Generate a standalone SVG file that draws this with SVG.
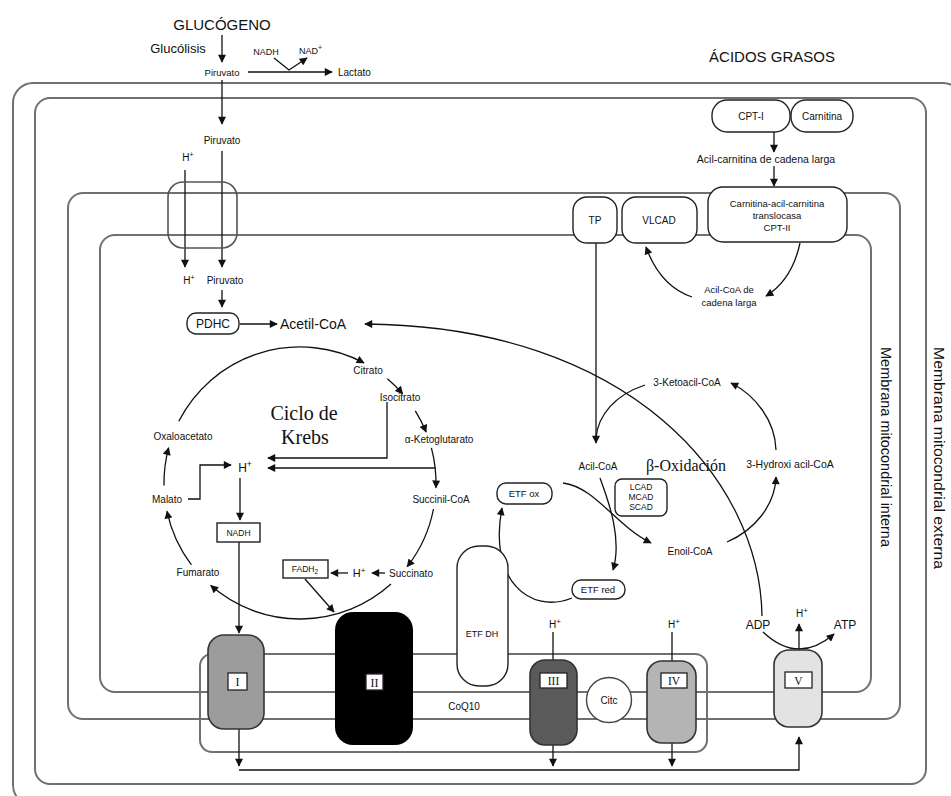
<svg xmlns="http://www.w3.org/2000/svg" width="951" height="796" viewBox="0 0 951 796">
<defs>
<style>
.mem{fill:none;stroke:#707070;stroke-width:2}
.ln{fill:none;stroke:#111;stroke-width:1.3}
.bx{fill:#fff;stroke:#222;stroke-width:1.4}
.t{font-family:"Liberation Sans",Arial,sans-serif;fill:#111;text-anchor:middle}
.st{font-family:"Liberation Sans",Arial,sans-serif;fill:#111;text-anchor:start}
.s{font-family:"Liberation Serif","Times New Roman",serif;fill:#111;text-anchor:middle}
.cx{stroke:#333;stroke-width:1.6}
.lb{fill:#fff;stroke:#222;stroke-width:1.3}
</style>
<marker id="ah" viewBox="0 0 10 10" refX="9" refY="5" markerWidth="9" markerHeight="8" orient="auto" markerUnits="userSpaceOnUse"><path d="M0,0 L10,5 L0,10 z" fill="#111"/></marker>
</defs>
<rect width="951" height="796" fill="#fff"/>

<g id="membranes">
<rect class="mem" x="13" y="83" width="950" height="722" rx="20"/>
<rect class="mem" x="35" y="98" width="891" height="686" rx="15"/>
<rect class="mem" x="68" y="193" width="832" height="526" rx="15"/>
<rect class="mem" x="100" y="235" width="771" height="457" rx="15"/>
<rect class="mem" x="200" y="654" width="507" height="98" rx="12"/>
<text class="t" font-size="14" transform="translate(886,447) rotate(90)" dominant-baseline="central" textLength="200" lengthAdjust="spacingAndGlyphs">Membrana mitocondrial interna</text>
<text class="t" font-size="14" transform="translate(939,458) rotate(90)" dominant-baseline="central" textLength="222" lengthAdjust="spacingAndGlyphs">Membrana mitocondrial externa</text>
</g>

<g id="connectors">
<path class="ln" d="M222 35 V62" marker-end="url(#ah)"/>
<path class="ln" d="M248 72 H332" marker-end="url(#ah)"/>
<path class="ln" d="M274 58 L289 70 L307 58" marker-end="url(#ah)"/>
<path class="ln" d="M222 80 V124" marker-end="url(#ah)"/>
<path class="ln" d="M222 151 V267" marker-end="url(#ah)"/>
<path class="ln" d="M185 170 V267" marker-end="url(#ah)"/>
<path class="ln" d="M222 290 V307" marker-end="url(#ah)"/>
<path class="ln" d="M240 324 H277" marker-end="url(#ah)"/>
<path class="ln" d="M762 616 C760 480 630 326 365 324" stroke-width="1.7" marker-end="url(#ah)"/>
<path class="ln" d="M178.8 421.3 A136 136 0 0 1 363.9 362.9" marker-end="url(#ah)"/>
<path class="ln" d="M387.4 378.8 A136 136 0 0 1 402.6 393.8" marker-end="url(#ah)"/>
<path class="ln" d="M415.3 410.9 A136 136 0 0 1 426.1 432.1" marker-end="url(#ah)"/>
<path class="ln" d="M431.4 447.8 A136 136 0 0 1 435.9 487.7" marker-end="url(#ah)"/>
<path class="ln" d="M433.5 509 A136 136 0 0 1 407.2 566.7" marker-end="url(#ah)"/>
<path class="ln" d="M391 584.1 A136 136 0 0 1 210.8 585.6" marker-end="url(#ah)"/>
<path class="ln" d="M191.4 564.8 A136 136 0 0 1 167 511.3" marker-end="url(#ah)"/>
<path class="ln" d="M164 485.4 A136 136 0 0 1 168.6 447.8" marker-end="url(#ah)"/>
<path class="ln" d="M188 499 H200 V465 H231" marker-end="url(#ah)"/>
<path class="ln" d="M387 402 V458 H268" stroke-width="1.8" marker-end="url(#ah)"/>
<path class="ln" d="M435 468 H268" stroke-width="1.8" marker-end="url(#ah)"/>
<path class="ln" d="M240 478 V520" marker-end="url(#ah)"/>
<path class="ln" d="M239 542 V633" marker-end="url(#ah)"/>
<path class="ln" d="M385 573 H372" marker-end="url(#ah)"/>
<path class="ln" d="M348 573 H331" marker-end="url(#ah)"/>
<path class="ln" d="M305 579 L334 612" marker-end="url(#ah)"/>
<path class="ln" d="M774 132 V152" marker-end="url(#ah)"/>
<path class="ln" d="M774 166 V186" marker-end="url(#ah)"/>
<path class="ln" d="M800 243 Q792 280 766 296" marker-end="url(#ah)"/>
<path class="ln" d="M692 297 Q660 286 646 247" marker-end="url(#ah)"/>
<path class="ln" d="M596 243 V443" marker-end="url(#ah)"/>
<path class="ln" d="M645 385 C615 395 598 415 596 438"/>
<path class="ln" d="M600 478 C610 505 622 540 613 570" marker-end="url(#ah)"/>
<path class="ln" d="M563 483 C595 487 615 525 651 543" marker-end="url(#ah)"/>
<path class="ln" d="M572 598 C530 615 488 580 502 508" marker-end="url(#ah)"/>
<path class="ln" d="M727 542 C755 530 775 505 776 477" marker-end="url(#ah)"/>
<path class="ln" d="M776 450 C775 420 755 395 731 383" marker-end="url(#ah)"/>
<path class="ln" d="M553 632 V660"/>
<path class="ln" d="M672 632 V661"/>
<path class="ln" d="M239 729 V766" marker-end="url(#ah)"/>
<path class="ln" d="M553 745 V766" marker-end="url(#ah)"/>
<path class="ln" d="M672 743 V766" marker-end="url(#ah)"/>
<path class="ln" d="M239 770 H799 V737" stroke-width="1.8" marker-end="url(#ah)"/>
<path class="ln" d="M763 632 Q798 665 834 634" marker-end="url(#ah)"/>
<path class="ln" d="M799 650 V624" marker-end="url(#ah)"/>
</g>

<g id="glucogeno"><text class="t" x="222" y="30" font-size="15">GLUCÓGENO</text></g>
<g id="glucolisis"><text class="t" x="178" y="53" font-size="13">Glucólisis</text></g>
<g id="nadh-top"><text class="t" x="266" y="55" font-size="9">NADH</text></g>
<g id="nad-top"><text class="st" x="299" y="54" font-size="9">NAD<tspan font-size="7" dy="-4">+</tspan></text></g>
<g id="piruvato1"><text class="t" x="222" y="76" font-size="9.5">Piruvato</text></g>
<g id="lactato"><text class="st" x="338" y="76" font-size="10">Lactato</text></g>
<g id="piruvato2"><text class="t" x="222" y="144" font-size="10">Piruvato</text></g>
<g id="h-top"><text class="t" x="188" y="161" font-size="10">H<tspan font-size="7" dy="-4">+</tspan></text></g>
<g id="transporter"><rect x="168" y="182" width="69" height="66" rx="15" fill="none" stroke="#555" stroke-width="1.6"/></g>
<g id="h-mid"><text class="t" x="189" y="284" font-size="10">H<tspan font-size="7" dy="-4">+</tspan></text></g>
<g id="piruvato3"><text class="t" x="225" y="284" font-size="10">Piruvato</text></g>
<g id="pdhc"><rect class="bx" x="187" y="313" width="52" height="21" rx="9"/><text class="t" x="213" y="328" font-size="12">PDHC</text></g>
<g id="acetil-coa"><text class="st" x="280" y="329" font-size="14">Acetil-CoA</text></g>

<g id="krebs-title"><text class="s" x="304" y="420" font-size="20">Ciclo de</text><text class="s" x="305" y="444" font-size="20">Krebs</text></g>
<g id="oxaloacetato"><text class="t" x="183" y="440" font-size="10">Oxaloacetato</text></g>
<g id="citrato"><text class="t" x="368" y="374" font-size="10">Citrato</text></g>
<g id="isocitrato"><text class="t" x="400" y="401" font-size="10">Isocitrato</text></g>
<g id="ketoglutarato"><text class="t" x="439" y="443" font-size="10">α-Ketoglutarato</text></g>
<g id="succinil-coa"><text class="t" x="441" y="503" font-size="10">Succinil-CoA</text></g>
<g id="succinato"><text class="t" x="411" y="577" font-size="10">Succinato</text></g>
<g id="h-succ"><text class="t" x="359" y="577" font-size="11">H<tspan font-size="8" dy="-4">+</tspan></text></g>
<g id="fadh2"><rect class="bx" x="283" y="560" width="45" height="18"/><text class="t" x="305" y="572" font-size="8.5">FADH<tspan font-size="6.5" dy="2">2</tspan></text></g>
<g id="fumarato"><text class="t" x="198" y="576" font-size="10">Fumarato</text></g>
<g id="malato"><text class="t" x="167" y="503" font-size="10">Malato</text></g>
<g id="h-krebs"><text class="t" x="245" y="472" font-size="12">H<tspan font-size="8.5" dy="-5">+</tspan></text></g>
<g id="nadh"><rect class="bx" x="217" y="523" width="43" height="19"/><text class="t" x="238.5" y="535.5" font-size="8.5">NADH</text></g>

<g id="acidos-grasos"><text class="t" x="772" y="62" font-size="15">ÁCIDOS GRASOS</text></g>
<g id="cpt1"><rect class="bx" x="712" y="100" width="78" height="32" rx="15"/><text class="t" x="751" y="119.5" font-size="10">CPT-I</text></g>
<g id="carnitina"><rect class="bx" x="791" y="100" width="62" height="32" rx="15"/><text class="t" x="822" y="119.5" font-size="10">Carnitina</text></g>
<g id="acil-carnitina"><text class="t" x="766" y="162.5" font-size="10.5">Acil-carnitina de cadena larga</text></g>
<g id="cpt2"><rect class="bx" x="708" y="187" width="139" height="55" rx="15"/><text class="t" x="777" y="207" font-size="9.5">Carnitina-acil-carnitina</text><text class="t" x="777" y="219" font-size="9.5">translocasa</text><text class="t" x="777" y="231" font-size="9.5">CPT-II</text></g>
<g id="tp"><rect class="bx" x="573" y="197" width="44" height="46" rx="14"/><text class="t" x="595" y="224" font-size="10">TP</text></g>
<g id="vlcad"><rect class="bx" x="622" y="197" width="75" height="46" rx="14"/><text class="t" x="659" y="224" font-size="10">VLCAD</text></g>
<g id="acil-coa-larga"><text class="t" x="729" y="293" font-size="9.5">Acil-CoA de</text><text class="t" x="729" y="306" font-size="9.5">cadena larga</text></g>
<g id="acil-coa"><text class="t" x="598" y="469.5" font-size="10">Acil-CoA</text></g>
<g id="beta-ox"><text class="s" x="686" y="471" font-size="16">β-Oxidación</text></g>
<g id="acad"><rect class="bx" x="615" y="479" width="52" height="37" rx="7"/><text class="t" x="641" y="490" font-size="8.5">LCAD</text><text class="t" x="641" y="500" font-size="8.5">MCAD</text><text class="t" x="641" y="510" font-size="8.5">SCAD</text></g>
<g id="etf-ox"><rect class="bx" x="497" y="483" width="55" height="21" rx="9"/><text class="t" x="524" y="497" font-size="9.5">ETF ox</text></g>
<g id="etf-red"><rect class="bx" x="572" y="580" width="53" height="19" rx="9"/><text class="t" x="598" y="593" font-size="9.5">ETF red</text></g>
<g id="enoil-coa"><text class="t" x="690" y="554.5" font-size="10">Enoil-CoA</text></g>
<g id="hydroxi"><text class="t" x="790" y="467.5" font-size="10.5">3-Hydroxi acil-CoA</text></g>
<g id="ketoacil"><text class="t" x="687" y="385.5" font-size="10">3-Ketoacil-CoA</text></g>

<g id="etf-dh"><rect class="bx" x="457" y="546" width="51" height="140" rx="22" stroke="#444"/><text class="t" x="482" y="637" font-size="9">ETF DH</text></g>
<g id="coq10"><text class="t" x="464" y="709.5" font-size="10">CoQ10</text></g>
<g id="complex-I"><rect class="cx" x="208" y="635" width="56" height="94" rx="16" fill="#9c9c9c"/><rect class="lb" x="228" y="673" width="19" height="17"/><text class="s" x="237.5" y="686" font-size="12">I</text></g>
<g id="complex-II"><rect x="335" y="612" width="78" height="133" rx="18" fill="#000"/><rect class="lb" x="366" y="674" width="17" height="16" stroke="#fff"/><text class="s" x="374.5" y="686.5" font-size="12">II</text></g>
<g id="complex-III"><rect class="cx" x="530" y="660" width="47" height="85" rx="15" fill="#5a5a5a"/><rect class="lb" x="540" y="673" width="27" height="15"/><text class="s" x="553.5" y="685" font-size="11.5">III</text></g>
<g id="citc"><circle cx="609" cy="700" r="22.5" fill="#fff" stroke="#444" stroke-width="1.4"/><text class="t" x="609" y="704" font-size="10">Citc</text></g>
<g id="complex-IV"><rect class="cx" x="647" y="661" width="49" height="82" rx="15" fill="#b4b4b4"/><rect class="lb" x="661" y="673" width="26" height="15"/><text class="s" x="674" y="685" font-size="11.5">IV</text></g>
<g id="complex-V"><rect class="cx" x="774" y="650" width="48" height="77" rx="15" fill="#e3e3e3"/><rect class="lb" x="785" y="672" width="27" height="16"/><text class="s" x="798.5" y="684.5" font-size="11.5">V</text></g>
<g id="h-III"><text class="t" x="555" y="628" font-size="10">H<tspan font-size="8" dy="-4">+</tspan></text></g>
<g id="h-IV"><text class="t" x="674" y="628" font-size="10">H<tspan font-size="8" dy="-4">+</tspan></text></g>
<g id="h-V"><text class="t" x="802" y="617" font-size="10">H<tspan font-size="8" dy="-4">+</tspan></text></g>
<g id="adp"><text class="t" x="758" y="629" font-size="12">ADP</text></g>
<g id="atp"><text class="t" x="845" y="629" font-size="12">ATP</text></g>
</svg>
